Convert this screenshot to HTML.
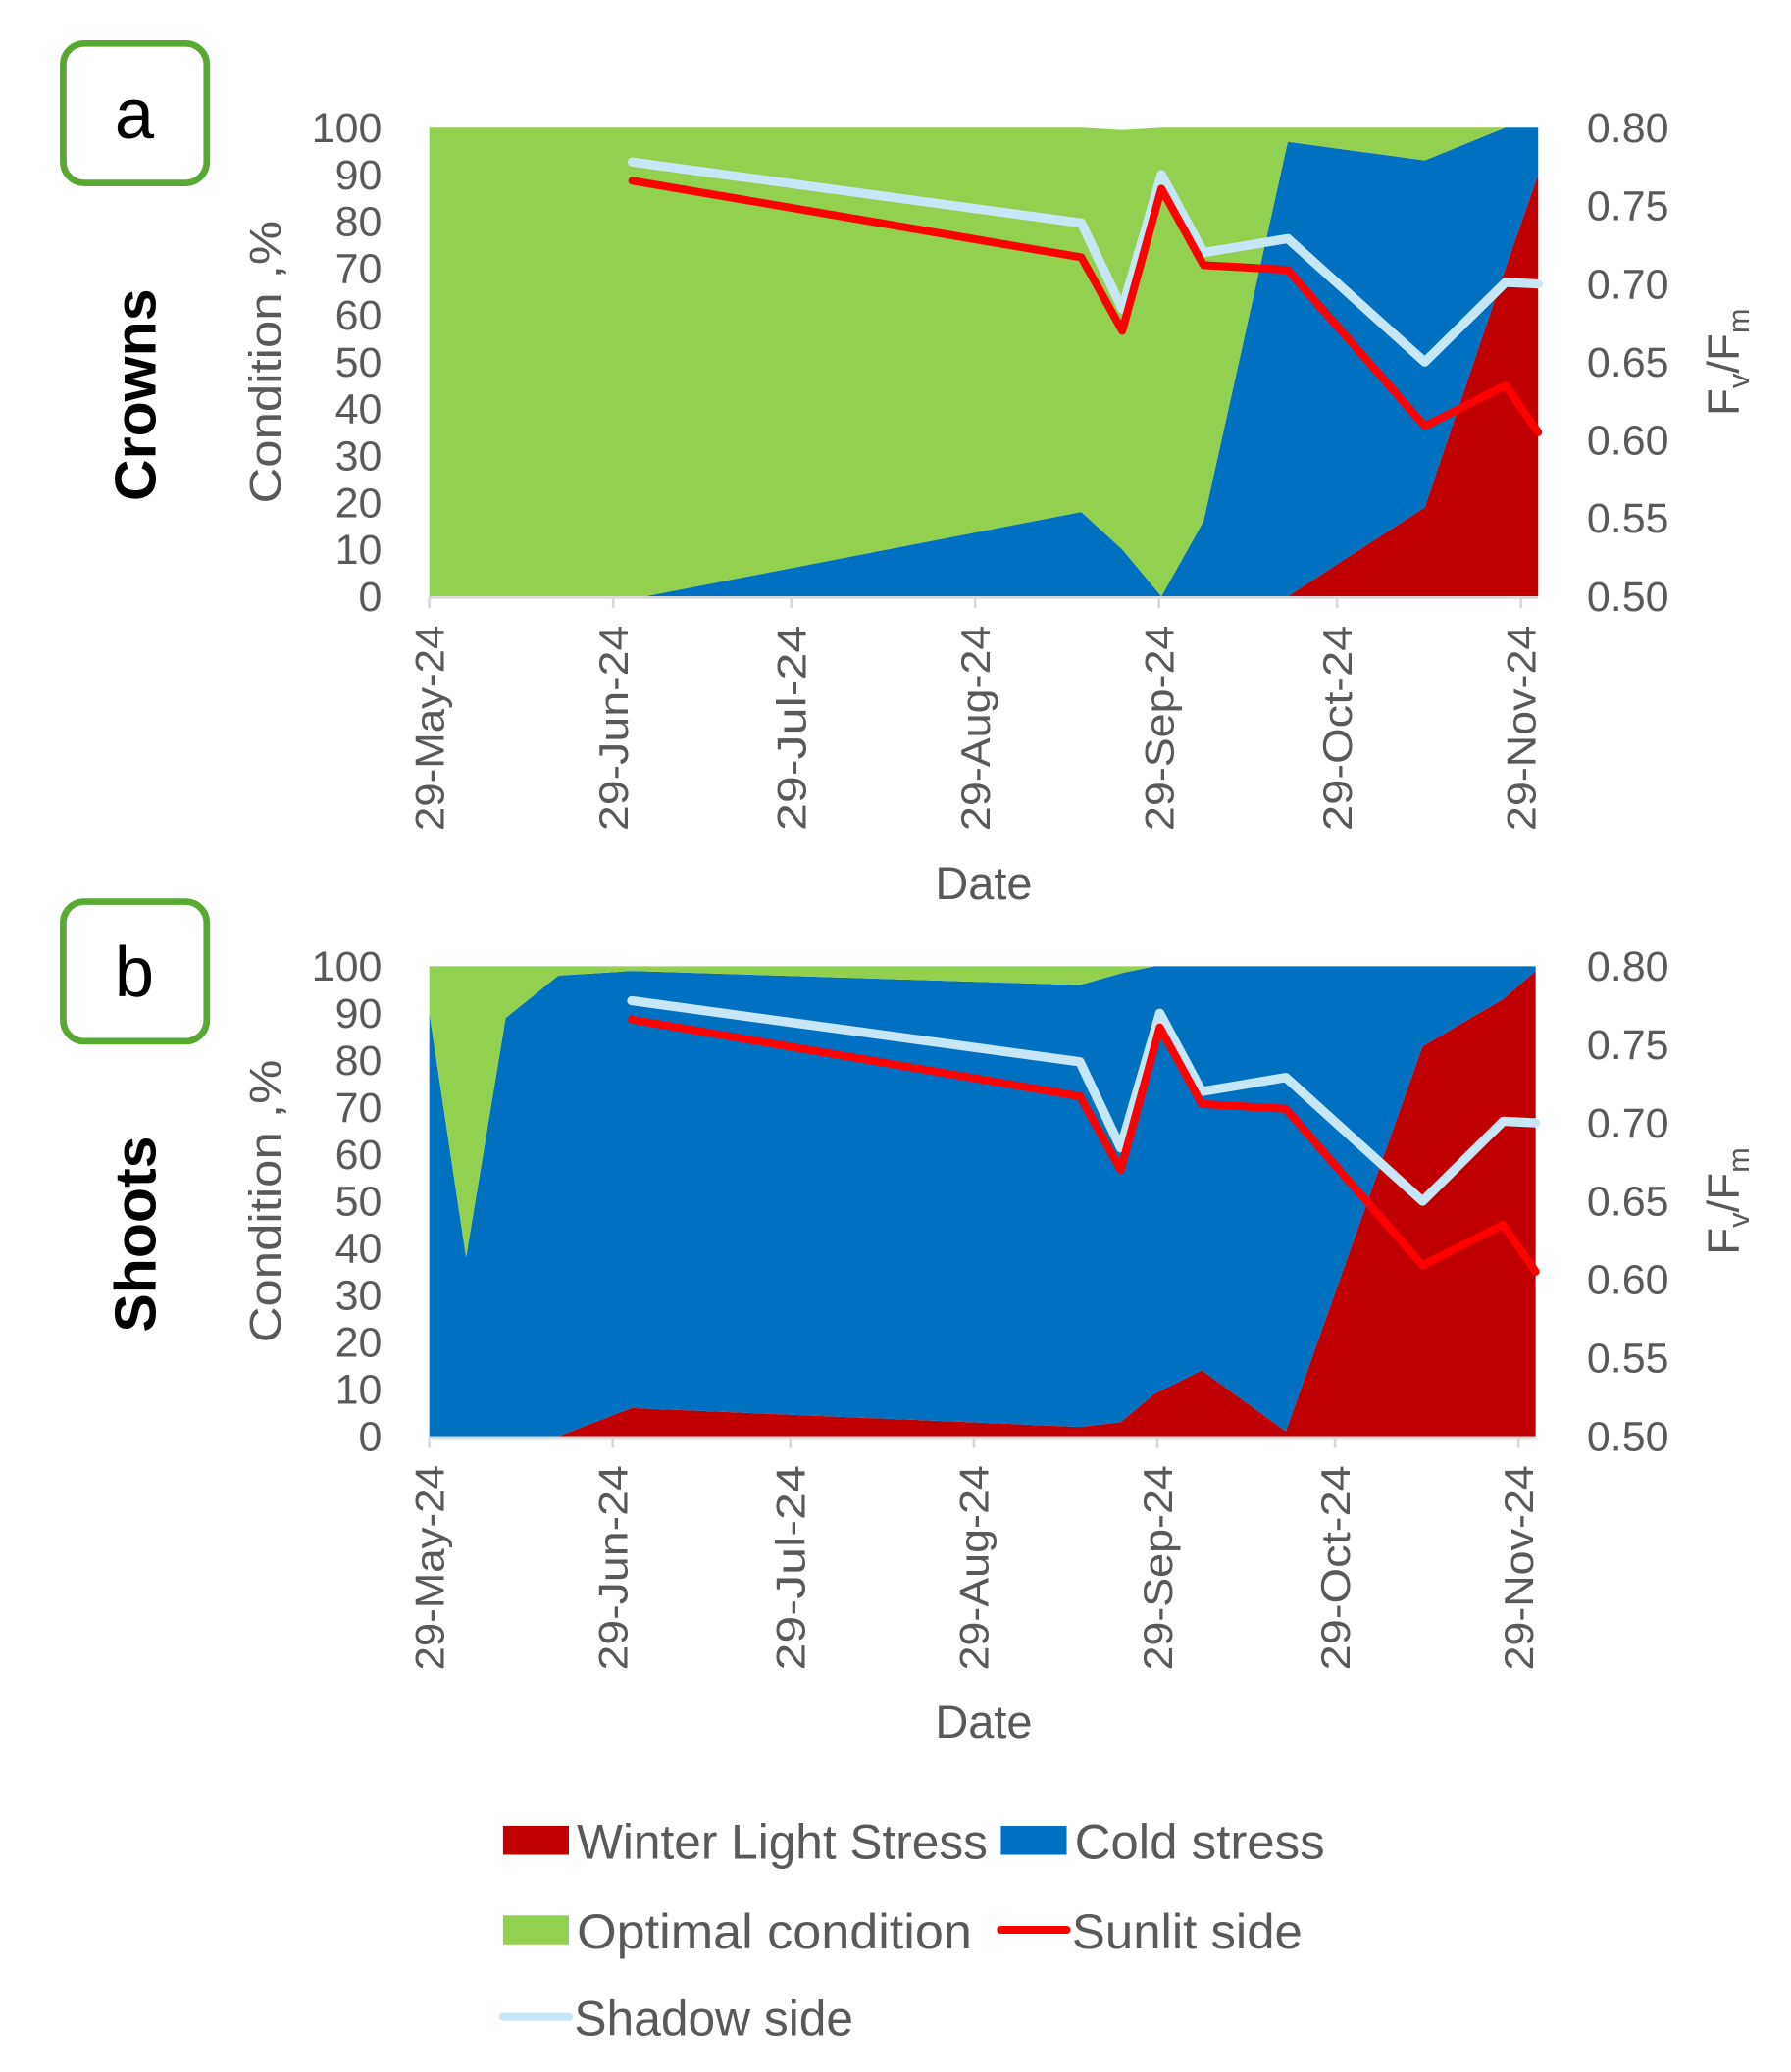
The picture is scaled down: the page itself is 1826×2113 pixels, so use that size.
<!DOCTYPE html>
<html><head><meta charset="utf-8">
<style>
html,body{margin:0;padding:0;background:#fff;}
svg{display:block;}
text{font-family:"Liberation Sans",sans-serif;}
</style></head>
<body>
<svg id="fig" width="1826" height="2113" viewBox="0 0 1360 1574" preserveAspectRatio="none" xmlns="http://www.w3.org/2000/svg">
</svg>
<script>
// Shared data (days since 29-May-24)
const tickLabels = ["29-May-24","29-Jun-24","29-Jul-24","29-Aug-24","29-Sep-24","29-Oct-24","29-Nov-24"];
const tickDays = [0,31,61,92,123,153,184];
const leftTicks = [0,10,20,30,40,50,60,70,80,90,100];
const rightTicks = ["0.50","0.55","0.60","0.65","0.70","0.75","0.80"];
// Crowns areas
const crownDays = [0,34.2,36.4,109.9,116.8,123.4,130.5,144.7,167.8,181.4,186.9];
const crownRed = [0,0,0,0,0,0,0,0,19,70,90];
const crownBlue = [0,0,0,18,10,0,16,97,74,30,10];
const crownGreen = [100,100,100,82,89.5,100,84,3,7,0,0];
// Shoots areas
const shootDays = [0,6.2,12.9,21.8,34.2,109.9,116.8,122.5,130.5,144.7,167.8,181.4,186.9];
const shootRed = [0,0,0,0,6,2,3,9,14,1,83,93,99];
const shootBlue = [90,38,89,98,93,94,95.5,91,86,99,17,7,1];
const shootGreen = [10,62,11,2,1,4,1.5,0,0,0,0,0,0];
// Fv/Fm lines
const lineDays = [34.2,109.9,116.8,123.4,130.5,144.7,167.8,181.4,186.9];
const shadowVals = [0.778,0.739,0.684,0.770,0.720,0.729,0.650,0.701,0.700];
const sunlitVals = [0.766,0.717,0.670,0.761,0.712,0.709,0.609,0.635,0.605];

const NS="http://www.w3.org/2000/svg";
const svg=document.getElementById('fig');
function mk(tag,attrs,parent){const e=document.createElementNS(NS,tag);for(const k in attrs)e.setAttribute(k,attrs[k]);(parent||svg).appendChild(e);return e;}

function panel(cfg){
  const g=mk('g',{});
  
  
  const {x0,pxDay,xEnd,y0,y100}=cfg;
  const X=d=>x0+d*pxDay;
  const Y=v=>y0-(v/100)*(y0-y100);
  const YR=v=>y0-((v-0.5)/0.3)*(y0-y100);
  const series=[[cfg.red,'#c00000','winter-light-stress-area'],[cfg.blue,'#0070c0','cold-stress-area'],[cfg.green,'#92d050','optimal-condition-area']];
  let base=cfg.days.map(()=>0);
  series.forEach(([vals,col,nm])=>{
    const top=vals.map((v,i)=>base[i]+v);
    let d='';
    cfg.days.forEach((dd,i)=>{d+=(i?'L':'M')+X(dd).toFixed(1)+' '+Y(Math.min(top[i],100)).toFixed(1);});
    for(let i=cfg.days.length-1;i>=0;i--){d+='L'+X(cfg.days[i]).toFixed(1)+' '+Y(base[i]).toFixed(1);}
    d+='Z';
    const p=mk('path',{d:d,fill:col},g);
    
    
    base=top;
  });
  const ax=mk('line',{x1:x0,x2:xEnd,y1:y0+1,y2:y0+1,stroke:'#d9d9d9','stroke-width':2},g);
  
  
  tickDays.forEach((td,i)=>{
    mk('line',{x1:X(td),x2:X(td),y1:y0,y2:y0+9,stroke:'#d9d9d9','stroke-width':2},g);
    const t=mk('text',{x:0,y:0,transform:`translate(${X(td)+11},${y0+22}) rotate(-90)`,'text-anchor':'end','font-size':31,fill:'#595959',textLength:156,lengthAdjust:'spacingAndGlyphs'},g);
    t.textContent=tickLabels[i];
    
    
  });
  leftTicks.forEach(v=>{
    const t=mk('text',{x:290,y:Y(v)+11,'text-anchor':'end','font-size':32,fill:'#595959'},g);
    t.textContent=v;
    
    
  });
  rightTicks.forEach(v=>{
    const t=mk('text',{x:1205,y:YR(parseFloat(v))+11,'font-size':32,fill:'#595959'},g);
    t.textContent=v;
    
    
  });
  [[shadowVals,'#c5e7f7','shadow-side-line',7],[sunlitVals,'#ff0000','sunlit-side-line',6]].forEach(([vals,col,nm,w])=>{
    const pts=lineDays.map((d,i)=>X(d).toFixed(1)+','+YR(vals[i]).toFixed(1)).join(' ');
    const l=mk('polyline',{points:pts,fill:'none',stroke:col,'stroke-width':w,'stroke-linejoin':'round','stroke-linecap':'round'},g);
    
    
  });
  const mid=(y0+y100)/2;
  const yt=mk('text',{transform:`translate(213,${mid}) rotate(-90)`,'text-anchor':'middle','font-size':34,fill:'#595959',textLength:215,lengthAdjust:'spacingAndGlyphs'},g);
  yt.textContent='Condition ,%';
  
  
  const pt=mk('text',{transform:`translate(118,${mid+25}) rotate(-90)`,'text-anchor':'middle','font-size':44,'font-weight':'bold',fill:'#000'},g);
  pt.textContent=cfg.title;
  
  
  const rt=mk('text',{transform:`translate(1320,${mid}) rotate(-90)`,'text-anchor':'middle','font-size':34,fill:'#595959'},g);
  rt.innerHTML='F<tspan font-size="23" dy="8">v</tspan><tspan dy="-8">/F</tspan><tspan font-size="23" dy="8">m</tspan>';
  
  
  const dt=mk('text',{x:747,y:cfg.dateY,'text-anchor':'middle','font-size':35,fill:'#595959'},g);
  dt.textContent='Date';
  
  
  const bx=mk('rect',{x:48,y:cfg.boxY,width:109,height:106,rx:16,fill:'#fff',stroke:'#58a932','stroke-width':5},g);
  
  
  const bl=mk('text',{x:102,y:cfg.boxY+72,'text-anchor':'middle','font-size':54,fill:'#000'},g);
  bl.textContent=cfg.letter;
  
  
}
panel({name:'crowns',title:'Crowns',letter:'a',days:crownDays,red:crownRed,blue:crownBlue,green:crownGreen,x0:326,pxDay:4.505,xEnd:1168,y0:453,y100:97,dateY:683,boxY:33});
panel({name:'shoots',title:'Shoots',letter:'b',days:shootDays,red:shootRed,blue:shootBlue,green:shootGreen,x0:326,pxDay:4.495,xEnd:1166,y0:1091,y100:734,dateY:1320,boxY:685});

const lg=mk('g',{});


const legendItems=[
 ['rect','#c00000','Winter Light Stress',382,1398,312],
 ['rect','#0070c0','Cold stress',760,1398,190],
 ['rect','#92d050','Optimal condition',382,1466,300],
 ['line','#ff0000','Sunlit side',758,1466,175],
 ['line','#c5e7f7','Shadow side',380,1532,212]
];
legendItems.forEach(([k,col,label,x,y,w])=>{
  const it=mk('g',{},lg);
  
  
  if(k==='rect') mk('rect',{x:x,y:y-11,width:50,height:22,fill:col},it);
  else mk('line',{x1:x+2,x2:x+52,y1:y,y2:y,stroke:col,'stroke-width':6,'stroke-linecap':'round'},it);
  const t=mk('text',{x:x+56,y:y+14,'font-size':37,fill:'#595959',textLength:w,lengthAdjust:'spacingAndGlyphs'},it);
  t.textContent=label;
});
</script>
</body></html>
